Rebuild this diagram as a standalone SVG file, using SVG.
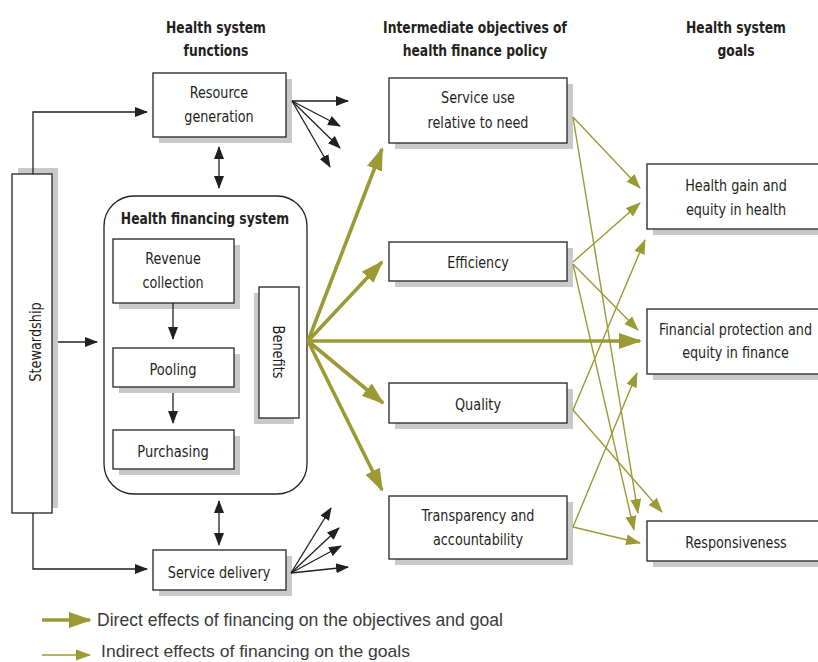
<svg xmlns="http://www.w3.org/2000/svg" width="818" height="662" viewBox="0 0 818 662">
<defs>
<style>
.box{fill:#fff;stroke:#333;stroke-width:1.4}
.sh{fill:#c9c9cb}
.t{font-family:"DejaVu Sans Condensed","Liberation Sans",sans-serif;font-size:16.5px;fill:#231f20;text-anchor:middle}
.h{font-family:"DejaVu Sans Condensed","Liberation Sans",sans-serif;font-size:16.5px;font-weight:bold;fill:#231f20;text-anchor:middle}
.lg{font-family:"Liberation Sans",sans-serif;font-size:17.5px;fill:#3a3a3a}
.bk{stroke:#231f20;stroke-width:1.3;fill:none}
.g1{stroke:#9b9a34;stroke-width:3.6;fill:none}
.g2{stroke:#9b9a34;stroke-width:1.4;fill:none}
</style>
<marker id="ab" markerUnits="userSpaceOnUse" markerWidth="14" markerHeight="12" viewBox="0 0 14 12" refX="12" refY="6" orient="auto-start-reverse"><path d="M0,1 L13,6 L0,11 Z" fill="#231f20"/></marker>
<marker id="ag1" markerUnits="userSpaceOnUse" markerWidth="24" markerHeight="18" viewBox="0 0 24 18" refX="21" refY="9" orient="auto"><path d="M0,1 L23,9 L0,17 Z" fill="#9b9a34"/></marker>
<marker id="ag2" markerUnits="userSpaceOnUse" markerWidth="16" markerHeight="12" viewBox="0 0 16 12" refX="14" refY="6" orient="auto"><path d="M0,0.5 L15,6 L0,11.5 Z" fill="#9b9a34"/></marker>
</defs>
<rect width="818" height="662" fill="#fff"/>

<g id="headers">
<text class="h" transform="translate(216,33) scale(0.83,1)">Health system</text>
<text class="h" transform="translate(216,56) scale(0.83,1)">functions</text>
<text class="h" transform="translate(475,33) scale(0.83,1)">Intermediate objectives of</text>
<text class="h" transform="translate(475,56) scale(0.83,1)">health finance policy</text>
<text class="h" transform="translate(736,33) scale(0.83,1)">Health system</text>
<text class="h" transform="translate(736,56) scale(0.83,1)">goals</text>
</g>

<g id="stewardship">
<rect class="sh" x="18" y="168" width="40" height="340"/>
<rect class="box" x="12" y="174" width="40" height="339"/>
<text class="t" transform="translate(41,342) rotate(-90) scale(0.87,1)">Stewardship</text>
</g>

<g id="resource-generation">
<rect class="sh" x="159" y="79" width="133" height="64"/>
<rect class="box" x="153" y="73" width="133" height="64"/>
<text class="t" transform="translate(219,98) scale(0.86,1)">Resource</text>
<text class="t" transform="translate(219,122) scale(0.86,1)">generation</text>
</g>

<g id="health-financing-system">
<rect x="104" y="196" width="203" height="298" rx="30" ry="30" fill="#fff" stroke="#231f20" stroke-width="1.3"/>
<text class="h" transform="translate(205,224) scale(0.83,1)">Health financing system</text>
</g>

<g id="revenue-collection">
<rect class="sh" x="119" y="245" width="121" height="64"/>
<rect class="box" x="113" y="239" width="121" height="64"/>
<text class="t" transform="translate(173,264) scale(0.86,1)">Revenue</text>
<text class="t" transform="translate(173,288) scale(0.86,1)">collection</text>
</g>

<g id="pooling">
<rect class="sh" x="119" y="354" width="121" height="39"/>
<rect class="box" x="113" y="348" width="121" height="39"/>
<text class="t" transform="translate(173,375) scale(0.88,1)">Pooling</text>
</g>

<g id="purchasing">
<rect class="sh" x="119" y="436" width="121" height="39"/>
<rect class="box" x="113" y="430" width="121" height="39"/>
<text class="t" transform="translate(173,457) scale(0.88,1)">Purchasing</text>
</g>

<g id="benefits">
<rect class="sh" x="254" y="293" width="40" height="131"/>
<rect class="box" x="259" y="287" width="40" height="131"/>
<text class="t" transform="translate(273,352) rotate(90) scale(0.87,1)">Benefits</text>
</g>

<g id="service-delivery">
<rect class="sh" x="159" y="556" width="133" height="40"/>
<rect class="box" x="153" y="550" width="133" height="40"/>
<text class="t" transform="translate(219,578) scale(0.86,1)">Service delivery</text>
</g>

<g id="service-use">
<rect class="sh" x="395" y="84" width="178" height="65"/>
<rect class="box" x="389" y="78" width="178" height="65"/>
<text class="t" transform="translate(478,103) scale(0.86,1)">Service use</text>
<text class="t" transform="translate(478,128) scale(0.86,1)">relative to need</text>
</g>

<g id="efficiency">
<rect class="sh" x="395" y="248" width="178" height="39"/>
<rect class="box" x="389" y="242" width="178" height="39"/>
<text class="t" transform="translate(478,268) scale(0.86,1)">Efficiency</text>
</g>

<g id="quality">
<rect class="sh" x="395" y="389" width="178" height="40"/>
<rect class="box" x="389" y="383" width="178" height="40"/>
<text class="t" transform="translate(478,410) scale(0.87,1)">Quality</text>
</g>

<g id="transparency">
<rect class="sh" x="395" y="502" width="178" height="63"/>
<rect class="box" x="389" y="496" width="178" height="63"/>
<text class="t" transform="translate(478,521) scale(0.86,1)">Transparency and</text>
<text class="t" transform="translate(478,545) scale(0.86,1)">accountability</text>
</g>

<g id="health-gain">
<rect class="sh" x="653" y="170" width="180" height="65"/>
<rect class="box" x="647" y="164" width="180" height="65"/>
<text class="t" transform="translate(736,191) scale(0.86,1)">Health gain and</text>
<text class="t" transform="translate(736,215) scale(0.86,1)">equity in health</text>
</g>

<g id="financial-protection">
<rect class="sh" x="653" y="315" width="180" height="65"/>
<rect class="box" x="647" y="309" width="180" height="65"/>
<text class="t" transform="translate(735.5,335) scale(0.86,1)">Financial protection and</text>
<text class="t" transform="translate(735.5,358) scale(0.86,1)">equity in finance</text>
</g>

<g id="responsiveness">
<rect class="sh" x="653" y="527" width="180" height="40"/>
<rect class="box" x="647" y="521" width="180" height="40"/>
<text class="t" transform="translate(736,548) scale(0.86,1)">Responsiveness</text>
</g>

<g id="connectors">
<path class="bk" d="M33,174 V112 H147" marker-end="url(#ab)"/>
<path class="bk" d="M33,513 V569 H147" marker-end="url(#ab)"/>
<path class="bk" d="M58,342 H97" marker-end="url(#ab)"/>
<path class="bk" d="M219,147 V188" marker-start="url(#ab)" marker-end="url(#ab)"/>
<path class="bk" d="M219,501 V545" marker-start="url(#ab)" marker-end="url(#ab)"/>
<path class="bk" d="M173,303 V339" marker-end="url(#ab)"/>
<path class="bk" d="M173,393 V423" marker-end="url(#ab)"/>
<path class="bk" d="M292,101 L348,101" marker-end="url(#ab)"/>
<path class="bk" d="M292,101 L340,126" marker-end="url(#ab)"/>
<path class="bk" d="M292,101 L340,148" marker-end="url(#ab)"/>
<path class="bk" d="M292,101 L330,167" marker-end="url(#ab)"/>
<path class="bk" d="M291,573 L348,567" marker-end="url(#ab)"/>
<path class="bk" d="M291,573 L341,546" marker-end="url(#ab)"/>
<path class="bk" d="M291,573 L339,528" marker-end="url(#ab)"/>
<path class="bk" d="M291,573 L331,508" marker-end="url(#ab)"/>

<path class="g1" d="M308,341 L382,149" marker-end="url(#ag1)"/>
<path class="g1" d="M308,341 L382,262" marker-end="url(#ag1)"/>
<path class="g1" d="M308,341 L640,341" marker-end="url(#ag1)"/>
<path class="g1" d="M308,341 L383,403" marker-end="url(#ag1)"/>
<path class="g1" d="M308,341 L382,490" marker-end="url(#ag1)"/>

<path class="g2" d="M573,117 L640,188" marker-end="url(#ag2)"/>
<path class="g2" d="M573,117 L638,513" marker-end="url(#ag2)"/>
<path class="g2" d="M573,262 L640,203" marker-end="url(#ag2)"/>
<path class="g2" d="M573,264 L638,330" marker-end="url(#ag2)"/>
<path class="g2" d="M573,264 L634,530" marker-end="url(#ag2)"/>
<path class="g2" d="M573,410 L645,240" marker-end="url(#ag2)"/>
<path class="g2" d="M573,410 L662,512" marker-end="url(#ag2)"/>
<path class="g2" d="M573,527 L637,373" marker-end="url(#ag2)"/>
<path class="g2" d="M573,527 L640,543" marker-end="url(#ag2)"/>
</g>

<g id="legend">
<path class="g1" d="M42,620 L90,620" marker-end="url(#ag1)"/>
<text class="lg" x="97" y="626" textLength="406" lengthAdjust="spacingAndGlyphs">Direct effects of financing on the objectives and goal</text>
<path class="g2" d="M42,655 L90,655" marker-end="url(#ag2)"/>
<text class="lg" x="101" y="657" textLength="309" lengthAdjust="spacingAndGlyphs" style="font-size:17px">Indirect effects of financing on the goals</text>
</g>
</svg>
